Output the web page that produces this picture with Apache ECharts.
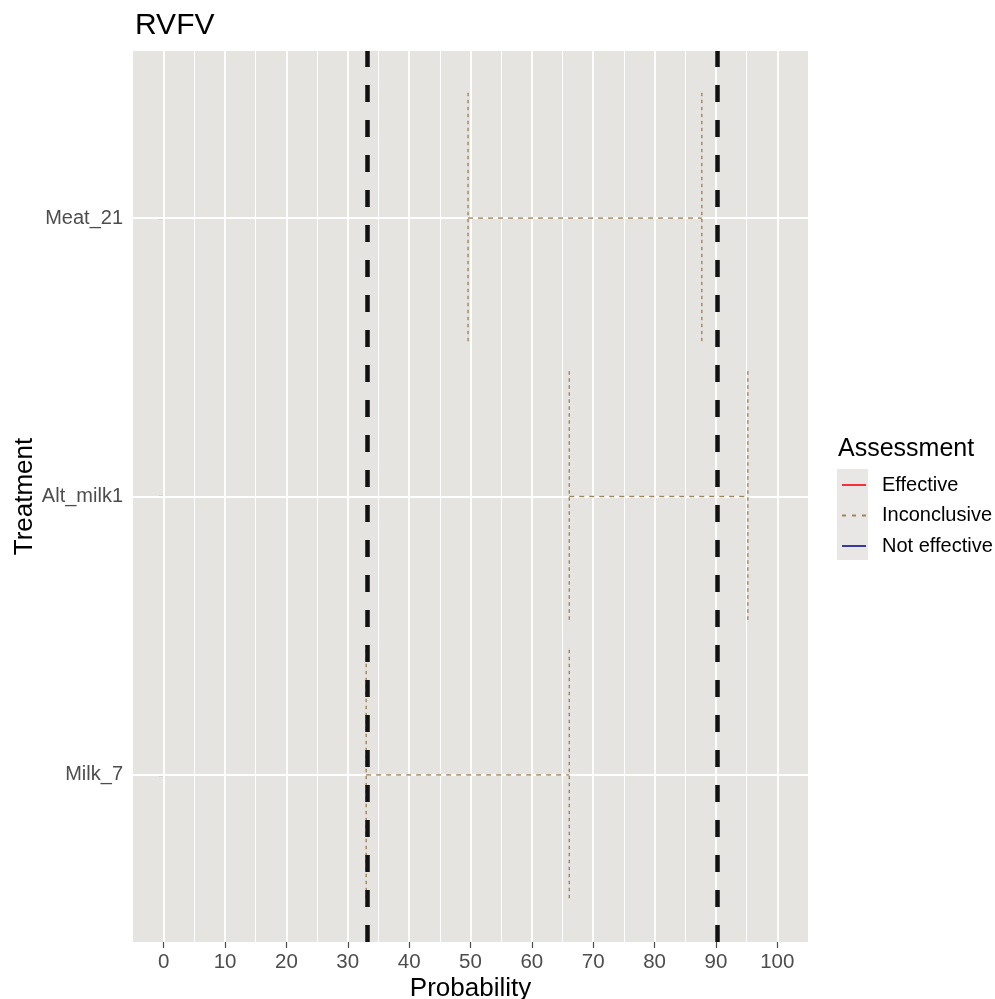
<!DOCTYPE html>
<html><head><meta charset="utf-8">
<script src="https://cdn.jsdelivr.net/npm/echarts@6/dist/echarts.min.js"></script>
<style>html,body{margin:0;padding:0;background:#fff}#c{width:995px;height:999px}</style>
</head><body><div id="c"></div>
<script>
// Data
const categories = ['Milk_7', 'Alt_milk1', 'Meat_21']; // bottom to top
const lowerValues = [33.0, 66.1, 49.6];
const upperValues = [66.1, 95.2, 87.7];
const assessments = ['Inconclusive', 'Inconclusive', 'Inconclusive'];
const thresholds = [33.1, 90.2];
const xTicks = [0, 10, 20, 30, 40, 50, 60, 70, 80, 90, 100];
const xMinor = [5, 15, 25, 35, 45, 55, 65, 75, 85, 95];
const legendNames = ['Effective', 'Inconclusive', 'Not effective'];
const legendColors = ['#F5303A', '#A08659', '#3A3A9C'];

const FONT = '"Liberation Sans", Arial, sans-serif';
const panelBg = '#E6E4E1';
const catPos = categories.map((c, i) => i + 1);
const barHalf = 0.45;

const chart = echarts.init(document.getElementById('c'));

const errData = categories.map((c, i) => [lowerValues[i], upperValues[i], catPos[i]]);

const option = {
  animation: false,
  backgroundColor: '#fff',
  title: [
    { text: 'RVFV', left: 130, top: 6, textStyle: { fontFamily: FONT, fontSize: 30, fontWeight: 'normal', color: '#000' } },
    { text: 'Assessment', left: 833, top: 432, textStyle: { fontFamily: FONT, fontSize: 25, fontWeight: 'normal', color: '#000' } }
  ],
  grid: { left: 133, right: 187, top: 51, bottom: 57, show: true, backgroundColor: panelBg, borderWidth: 0,
    containLabel: false, outerBoundsMode: 'none' },
  xAxis: {
    type: 'value', min: -5, max: 105,
    name: 'Probability', nameLocation: 'middle', nameGap: 34, nameMoveOverlap: false,
    nameTextStyle: { fontFamily: FONT, fontSize: 26, color: '#000' },
    axisLine: { show: false },
    axisTick: { show: true, customValues: xTicks, length: 6, lineStyle: { color: '#4D4D4D', width: 1.2 } },
    axisLabel: { customValues: xTicks, fontFamily: FONT, fontSize: 20.5, color: '#4D4D4D', margin: 10 },
    splitLine: { show: false }
  },
  yAxis: {
    type: 'value', min: 0.4, max: 3.6,
    name: 'Treatment', nameLocation: 'middle', nameGap: 95, nameRotate: 90, nameMoveOverlap: false,
    nameTextStyle: { fontFamily: FONT, fontSize: 26, color: '#000' },
    axisLine: { show: false },
    axisTick: { show: true, customValues: catPos, length: 5, lineStyle: { color: '#4D4D4D', width: 1.2 } },
    axisLabel: { customValues: catPos, fontFamily: FONT, fontSize: 20, color: '#4D4D4D', margin: 10,
      formatter: v => categories[Math.round(v) - 1] || '' },
    splitLine: { show: false }
  },
  legend: {
    orient: 'vertical', left: 841, top: 475, padding: 0, itemWidth: 24, itemHeight: 20, itemGap: 10.5,
    data: legendNames,
    itemStyle: { opacity: 0 },
    textStyle: { fontFamily: FONT, fontSize: 20, color: '#000', padding: [0, 0, 0, 11] },
    selectedMode: false
  },
  graphic: [
    { type: 'rect', shape: { x: 837, y: 469, width: 31, height: 91 }, style: { fill: '#E9E7E5' }, z: -1 }
  ],
  series: [
    {
      type: 'line', name: 'grid', data: [], silent: true, z: 1,
      markLine: {
        silent: true, symbol: 'none', label: { show: false }, z: 1,
        data: [
          ...xMinor.map(v => ({ xAxis: v, lineStyle: { color: '#fff', width: 1, type: 'solid' } })),
          ...xTicks.map(v => ({ xAxis: v, lineStyle: { color: '#fff', width: 1.8, type: 'solid' } })),
          ...catPos.map(v => ({ yAxis: v, lineStyle: { color: '#fff', width: 1.8, type: 'solid' } }))
        ]
      }
    },
    { type: 'line', name: legendNames[0], data: [], symbol: 'none', lineStyle: { color: legendColors[0], width: 1.4 }, itemStyle: { color: legendColors[0] } },
    { type: 'line', name: legendNames[1], data: [], symbol: 'none', lineStyle: { color: legendColors[1], width: 1.4, type: [4, 6] }, itemStyle: { color: legendColors[1] } },
    { type: 'line', name: legendNames[2], data: [], symbol: 'none', lineStyle: { color: legendColors[2], width: 1.4 }, itemStyle: { color: legendColors[2] } },
    {
      type: 'custom', name: 'Inconclusive', z: 3,
      data: errData,
      encode: { x: [0, 1], y: 2 },
      renderItem: (params, api) => {
        const lo = api.value(0), hi = api.value(1), y = api.value(2);
        const idx = legendNames.indexOf(assessments[params.dataIndex]);
        const col = legendColors[idx];
        const pL = api.coord([lo, y]), pR = api.coord([hi, y]);
        const t = api.coord([lo, y + barHalf])[1], b = api.coord([lo, y - barHalf])[1];
        const st = { stroke: col, lineWidth: 1.4, lineDash: [3.5, 3.5], fill: null };
        return {
          type: 'group',
          children: [
            { type: 'line', shape: { x1: pL[0], y1: pL[1], x2: pR[0], y2: pR[1] }, style: Object.assign({}, st, { lineDash: [5, 5] }) },
            { type: 'line', shape: { x1: pL[0], y1: t, x2: pL[0], y2: b }, style: st },
            { type: 'line', shape: { x1: pR[0], y1: t, x2: pR[0], y2: b }, style: st }
          ]
        };
      }
    },
    {
      type: 'line', name: 'thresholds', data: [], silent: true, z: 4,
      markLine: {
        silent: true, symbol: 'none', label: { show: false }, z: 10,
        lineStyle: { color: '#111', width: 4.5, type: [17, 18] },
        data: thresholds.map(v => ({ xAxis: v }))
      }
    }
  ]
};
chart.setOption(option);
</script></body></html>
